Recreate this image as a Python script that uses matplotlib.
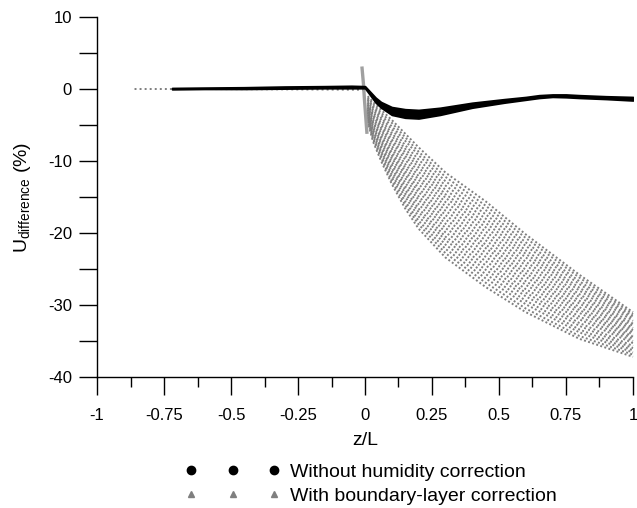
"""
U_difference vs z/L: without humidity correction vs. with boundary-layer correction
"""
import matplotlib
matplotlib.use('Agg')
import matplotlib.pyplot as plt
from matplotlib.lines import Line2D
from matplotlib.ticker import MultipleLocator

plt.rcParams.update({
    'font.family': ['Liberation Sans', 'DejaVu Sans'],
    'font.size': 12,
    'mathtext.fontset': 'custom',
    'mathtext.rm': 'Liberation Sans',
    'mathtext.default': 'regular',
    'axes.linewidth': 1.0,
    'axes.unicode_minus': False,
})

# black series: band edges (z/L, U_diff %)
blk_x = [-0.72, -0.6, -0.45, -0.3, -0.15, -0.05, 0.0, 0.02, 0.04, 0.06, 0.1, 0.15,
         0.2, 0.28, 0.4, 0.52, 0.6, 0.65, 0.7, 0.75, 0.8, 0.9, 1.0]
blk_hi = [0.15, 0.2, 0.25, 0.35, 0.4, 0.45, 0.4, -0.4, -1.2, -1.8, -2.5, -2.8,
          -2.9, -2.6, -1.9, -1.4, -1.1, -0.85, -0.75, -0.75, -0.85, -1.0, -1.1]
blk_lo = [-0.05, 0.0, 0.0, 0.05, 0.1, 0.1, 0.1, -0.9, -1.9, -2.6, -3.6, -4.0,
          -4.1, -3.6, -2.6, -1.9, -1.5, -1.25, -1.1, -1.15, -1.25, -1.4, -1.6]

# grey series, stable side (z/L < 0)
gry_neg_x = [-0.86, -0.6, -0.3, 0.0]
gry_neg_y = [0.0, 0.0, -0.05, -0.1]

# grey streak right at z/L ~ 0
streak_x = [-0.011, -0.006, -0.002, 0.003, 0.007]
streak_y = [2.9, 0.8, -1.5, -4.0, -6.0]

# grey fan (z/L > 0): one row per curve, values at fan_x
fan_x = [0.01, 0.03, 0.06, 0.1, 0.15, 0.2, 0.3, 0.45, 0.6, 0.8, 1.0]
fan_curves = [
    [-1.0, -1.8, -2.9, -4.3, -6.2, -8.1, -11.6, -15.6, -20.2, -25.8, -31.0],
    [-1.2, -2.1, -3.3, -4.7, -6.7, -8.7, -12.2, -16.2, -20.7, -26.2, -31.3],
    [-1.4, -2.4, -3.6, -5.2, -7.2, -9.2, -12.8, -16.8, -21.3, -26.7, -31.6],
    [-1.5, -2.6, -4.0, -5.6, -7.8, -9.8, -13.4, -17.4, -21.8, -27.1, -31.9],
    [-1.7, -2.9, -4.3, -6.1, -8.3, -10.4, -14.0, -18.0, -22.4, -27.6, -32.2],
    [-1.9, -3.2, -4.7, -6.5, -8.8, -10.9, -14.6, -18.6, -22.9, -28.0, -32.6],
    [-2.1, -3.5, -5.0, -7.0, -9.3, -11.5, -15.1, -19.2, -23.4, -28.5, -32.9],
    [-2.2, -3.7, -5.4, -7.4, -9.8, -12.1, -15.7, -19.8, -24.0, -28.9, -33.2],
    [-2.4, -4.0, -5.7, -7.9, -10.4, -12.6, -16.3, -20.4, -24.5, -29.4, -33.5],
    [-2.6, -4.3, -6.1, -8.3, -10.9, -13.2, -16.9, -21.0, -25.1, -29.8, -33.8],
    [-2.8, -4.6, -6.5, -8.8, -11.4, -13.8, -17.5, -21.6, -25.6, -30.3, -34.1],
    [-2.9, -4.8, -6.8, -9.2, -11.9, -14.3, -18.1, -22.1, -26.1, -30.7, -34.4],
    [-3.1, -5.1, -7.2, -9.6, -12.4, -14.9, -18.7, -22.7, -26.7, -31.1, -34.7],
    [-3.3, -5.4, -7.5, -10.1, -13.0, -15.4, -19.3, -23.3, -27.2, -31.6, -35.0],
    [-3.5, -5.7, -7.9, -10.5, -13.5, -16.0, -19.9, -23.9, -27.8, -32.0, -35.3],
    [-3.6, -5.9, -8.2, -11.0, -14.0, -16.6, -20.5, -24.5, -28.3, -32.5, -35.7],
    [-3.8, -6.2, -8.6, -11.4, -14.5, -17.1, -21.0, -25.1, -28.8, -32.9, -36.0],
    [-4.0, -6.5, -8.9, -11.9, -15.0, -17.7, -21.6, -25.7, -29.4, -33.4, -36.3],
    [-4.2, -6.8, -9.3, -12.3, -15.6, -18.3, -22.2, -26.3, -29.9, -33.8, -36.6],
    [-4.3, -7.0, -9.6, -12.8, -16.1, -18.8, -22.8, -26.9, -30.5, -34.3, -36.9],
    [-4.5, -7.3, -10.0, -13.2, -16.6, -19.4, -23.4, -27.5, -31.0, -34.7, -37.2],
]

GREY = '#7f7f7f'

fig = plt.figure(figsize=(6.37, 5.08), dpi=100)
ax = fig.add_axes([0.1523, 0.2579, 0.8414, 0.7086])

# grey series
dots = (0, (1, 1.2))
for row in fan_curves:
    ax.plot(fan_x, row, color=GREY, lw=1.4, ls=dots, zorder=2, clip_on=False)
ax.plot(gry_neg_x, gry_neg_y, color=GREY, lw=1.4, ls=(0, (1, 1.6)), zorder=2)
ax.plot(streak_x, streak_y, color='#a0a0a0', lw=2.4, zorder=2)

# black series
ax.fill_between(blk_x, blk_lo, blk_hi, color='black', lw=1.2, edgecolor='black', zorder=3)

ax.set_xlim(-1, 1)
ax.set_ylim(-40, 10)
ax.xaxis.set_minor_locator(MultipleLocator(0.125))
ax.yaxis.set_major_locator(MultipleLocator(10))
ax.yaxis.set_minor_locator(MultipleLocator(5))
ax.set_xticks([-1, -0.75, -0.5, -0.25, 0, 0.25, 0.5, 0.75, 1])
ax.set_xticklabels(['-1', '-0.75', '-0.5', '-0.25', '0', '0.25', '0.5', '0.75', '1'])
ax.tick_params(axis='x', which='major', direction='out', length=13, width=1.0, pad=9)
ax.tick_params(axis='x', which='minor', direction='out', length=7, width=1.0)
ax.tick_params(axis='y', which='both', direction='out', length=13, width=1.0, pad=5)
for s in ('top', 'right'):
    ax.spines[s].set_visible(False)

ax.set_xlabel('z/L', fontsize=14, labelpad=7)
ax.set_ylabel('U$_{difference}$ (%)', fontsize=14, labelpad=11)

handles = [
    Line2D([], [], ls='none', marker='o', color='black', ms=6),
    Line2D([], [], ls='none', marker='^', color=GREY, ms=4.5),
]
labels = ['Without humidity correction', 'With boundary-layer correction']
fig.legend(handles, labels, loc='upper left', bbox_to_anchor=(0.278, 0.104),
           numpoints=3, handlelength=4.9, handletextpad=0.5, frameon=False,
           labelspacing=0.35, fontsize=14, borderaxespad=0.0)

fig.savefig('out.png', dpi=100)
